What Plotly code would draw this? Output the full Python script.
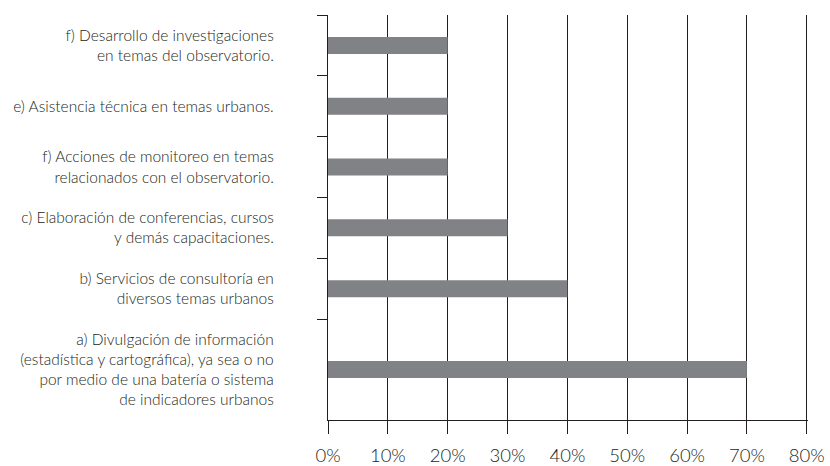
import numpy as np
import plotly.graph_objects as go

# Activities offered, listed from the bottom slot upward
categories = [
    "a) Divulgación de información<br>(estadística y cartográfica), ya sea o no<br>por medio de una batería o sistema<br>de indicadores urbanos",
    "b) Servicios de consultoría en<br>diversos temas urbanos",
    "c) Elaboración de conferencias, cursos<br>y demás capacitaciones.",
    "f) Acciones de monitoreo en temas<br>relacionados con el observatorio.",
    "e) Asistencia técnica en temas urbanos.",
    "f) Desarrollo de investigaciones<br>en temas del observatorio.",
]
values = [70, 40, 30, 20, 20, 20]
x_ticks = [0, 10, 20, 30, 40, 50, 60, 70, 80]
x_tick_labels = ["0%", "10%", "20%", "30%", "40%", "50%", "60%", "70%", "80%"]

# Relative height of each category slot (the first one holds a four-line label)
slot_heights = np.array([1.66, 1, 1, 1, 1, 1])
edges = np.concatenate([[0], np.cumsum(slot_heights)])
centers = (edges[:-1] + edges[1:]) / 2

ink = "#231f20"
text_col = "#231f20"
bar_col = "#808285"

fig = go.Figure(
    go.Bar(
        x=values,
        y=centers,
        orientation="h",
        width=0.28,
        marker=dict(color=bar_col, line=dict(width=0)),
        hoverinfo="x",
    )
)

fig.update_layout(
    width=830,
    height=466,
    margin=dict(l=328, r=22, t=15, b=46),
    paper_bgcolor="white",
    plot_bgcolor="white",
    showlegend=False,
    font=dict(family="Lato, 'Open Sans', sans-serif", color=text_col),
    xaxis=dict(
        automargin=False,
        range=[0, 80.2],
        tickmode="array",
        tickvals=x_ticks,
        ticktext=x_tick_labels,
        ticks="outside",
        ticklen=13,
        tickwidth=1.3,
        tickcolor=ink,
        showline=True,
        linecolor=ink,
        linewidth=1.3,
        showgrid=True,
        gridcolor=ink,
        gridwidth=1.3,
        zeroline=False,
        tickfont=dict(size=18.5, color=text_col, weight=300),
        ticklabelstandoff=6,
    ),
    yaxis=dict(
        automargin=False,
        range=[0, edges[-1]],
        tickmode="array",
        tickvals=centers,
        ticktext=categories,
        ticks="",
        showline=True,
        linecolor=ink,
        linewidth=1.3,
        showgrid=False,
        zeroline=False,
        tickfont=dict(size=15.5, color=text_col, weight=300),
        ticklabelstandoff=50,
        minor=dict(
            tickmode="array",
            tickvals=list(edges[1:]),
            ticks="outside",
            ticklen=10,
            tickwidth=1.3,
            tickcolor=ink,
            showgrid=False,
        ),
    ),
)

fig.write_html("out.html")
